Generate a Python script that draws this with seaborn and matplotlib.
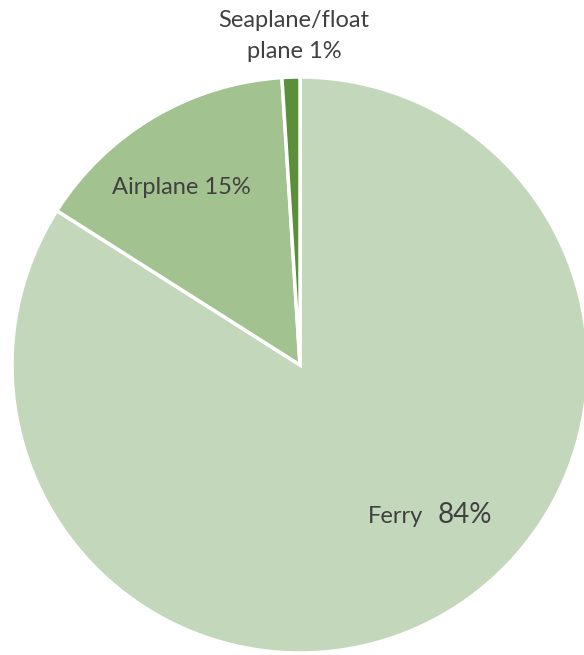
import seaborn as sns
import matplotlib.pyplot as plt

# data
modes = ['Ferry', 'Airplane', 'Seaplane/float\nplane']
shares = [84, 15, 1]
colors = ['#c3d8ba', '#a2c38f', '#5b8f3a']

sns.set_theme(style='white')
plt.rcParams['font.family'] = ['Lato', 'DejaVu Sans']
text_color = '#404040'

fig = plt.figure(figsize=(5.84, 6.55), dpi=100)
ax = fig.add_axes([0, 0, 1, 1])

# pie in pixel coordinates (y up)
ax.pie(shares, colors=colors, startangle=90, counterclock=False,
       center=(300, 290), radius=288,
       wedgeprops=dict(edgecolor='white', linewidth=2.5))
ax.set_xlim(0, 584)
ax.set_ylim(0, 655)
ax.axis('off')

# labels
ax.text(294, 619, f"{modes[2]} {shares[2]}%", ha='center', va='center',
        fontsize=17, color=text_color, linespacing=1.55)
ax.text(181, 467, f"{modes[1]} {shares[1]}%", ha='center', va='center',
        fontsize=17, color=text_color)
ax.text(368, 132, modes[0], ha='left', va='baseline',
        fontsize=17, color=text_color)
ax.text(438, 132, f"{shares[0]}%", ha='left', va='baseline',
        fontsize=20, color=text_color)

fig.savefig('out.png', dpi=100)
